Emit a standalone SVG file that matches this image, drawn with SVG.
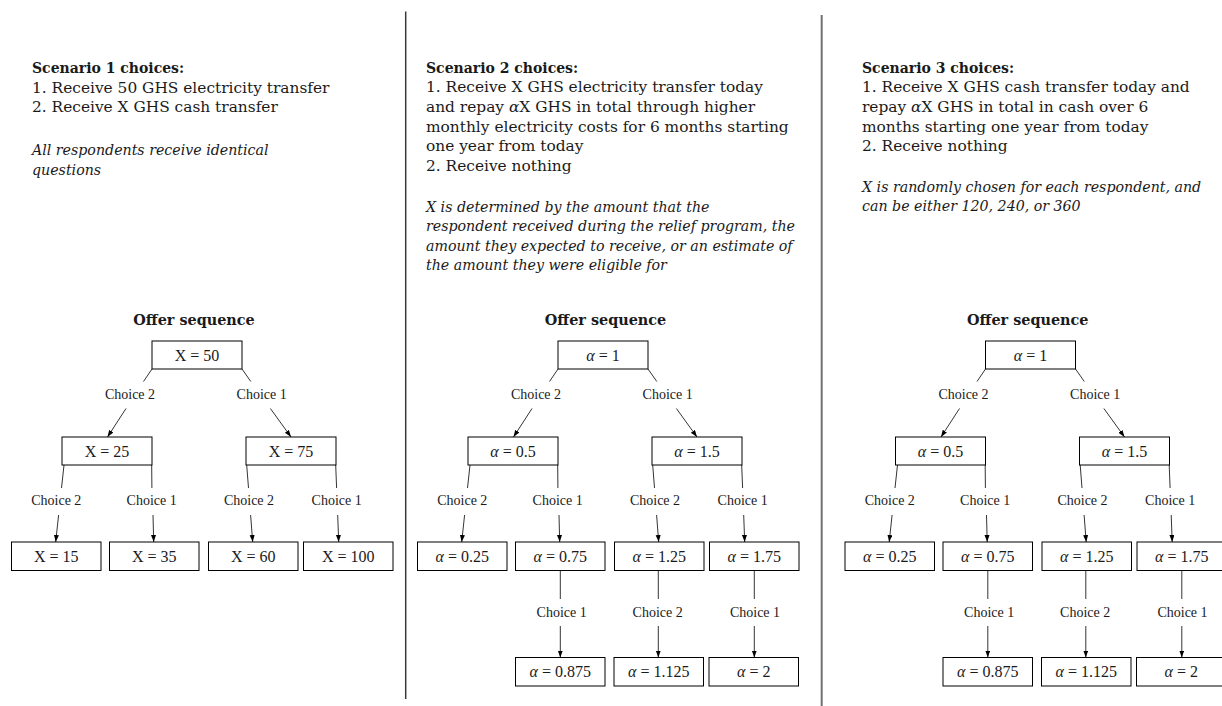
<svg xmlns="http://www.w3.org/2000/svg" width="1222" height="706" viewBox="0 0 1222 706">
<defs>
<marker id="ah" markerUnits="userSpaceOnUse" markerWidth="8" markerHeight="6" refX="7" refY="2.5" orient="auto">
<path d="M0,0 L7,2.5 L0,5 z" fill="#000"/>
</marker>
<style>
.p{font-family:"DejaVu Serif",serif;font-size:15.4px;fill:#1a1a1a}
.b{font-weight:bold;font-size:14px}
.i{font-style:italic;font-size:14.2px}
.p tspan.i{font-size:15.4px}
.t{font-family:"DejaVu Serif",serif;font-weight:bold;font-size:14.4px;fill:#1a1a1a;text-anchor:middle}
.box rect{fill:#fff;stroke:#000;stroke-width:1}
.box text{font-family:"Liberation Serif",serif;font-size:16px;fill:#1a1a1a;text-anchor:middle}
.a{font-style:italic}
.c line{stroke:#000;stroke-width:0.8}
.c .ar{marker-end:url(#ah)}
.lb{font-family:"Liberation Serif",serif;font-size:14px;fill:#1a1a1a;text-anchor:middle}
</style>
</defs>
<rect width="1222" height="706" fill="#fff"/>
<g id="dividers">
<line x1="405.7" y1="11.5" x2="405.7" y2="699" stroke="#3a3a3a" stroke-width="1.5"/>
<line x1="821.7" y1="15" x2="821.7" y2="706" stroke="#707070" stroke-width="2"/>
</g>
<g id="scenario1-text" class="p">
<text x="32" y="72.5" class="b">Scenario 1 choices:</text>
<text x="32" y="92.5">1. Receive 50 GHS electricity transfer</text>
<text x="32" y="112">2. Receive X GHS cash transfer</text>
<text x="32" y="155" class="i">All respondents receive identical</text>
<text x="32" y="174.5" class="i">questions</text>
</g>
<g id="scenario2-text" class="p">
<text x="426" y="72.5" class="b">Scenario 2 choices:</text>
<text x="426" y="92.3">1. Receive X GHS electricity transfer today</text>
<text x="426" y="112">and repay <tspan class="i">α</tspan>X GHS in total through higher</text>
<text x="426" y="131.7">monthly electricity costs for 6 months starting</text>
<text x="426" y="151.4">one year from today</text>
<text x="426" y="171.1">2. Receive nothing</text>
<text x="426" y="211.5" class="i">X is determined by the amount that the</text>
<text x="426" y="231" class="i">respondent received during the relief program, the</text>
<text x="426" y="250.5" class="i">amount they expected to receive, or an estimate of</text>
<text x="426" y="270" class="i">the amount they were eligible for</text>
</g>
<g id="scenario3-text" class="p">
<text x="862" y="72.5" class="b">Scenario 3 choices:</text>
<text x="862" y="92.3">1. Receive X GHS cash transfer today and</text>
<text x="862" y="112">repay <tspan class="i">α</tspan>X GHS in total in cash over 6</text>
<text x="862" y="131.7">months starting one year from today</text>
<text x="862" y="151.4">2. Receive nothing</text>
<text x="862" y="191.5" class="i">X is randomly chosen for each respondent, and</text>
<text x="862" y="211" class="i">can be either 120, 240, or 360</text>
</g>
<g id="titles">
<text x="194" y="325" class="t">Offer sequence</text>
<text x="605.5" y="325" class="t">Offer sequence</text>
<text x="1027.8" y="325" class="t">Offer sequence</text>
</g>
<g id="connectors" class="c">
<!-- tree 1 -->
<line x1="152" y1="369" x2="143.5" y2="381.5"/><line class="ar" x1="126" y1="408.5" x2="107.5" y2="437"/>
<line x1="242" y1="369" x2="250.8" y2="381.5"/><line class="ar" x1="270.4" y1="408.5" x2="291" y2="437"/>
<line x1="64" y1="465" x2="61.5" y2="488"/><line class="ar" x1="58.6" y1="515" x2="55.7" y2="542"/>
<line x1="151.7" y1="465" x2="151.9" y2="488"/><line class="ar" x1="153" y1="515" x2="153.7" y2="542"/>
<line x1="246.7" y1="465" x2="248.5" y2="488"/><line class="ar" x1="250.6" y1="515" x2="252.7" y2="542"/>
<line x1="335.7" y1="465" x2="336.6" y2="488"/><line class="ar" x1="337.7" y1="515" x2="338.7" y2="542"/>
<text class="lb" x="130" y="399">Choice 2</text><text class="lb" x="261.7" y="399">Choice 1</text>
<text class="lb" x="56.3" y="504.7">Choice 2</text><text class="lb" x="151.7" y="504.7">Choice 1</text>
<text class="lb" x="249" y="504.7">Choice 2</text><text class="lb" x="336.7" y="504.7">Choice 1</text>
<!-- tree 2 -->
<line x1="558" y1="369" x2="549.5" y2="381.5"/><line class="ar" x1="532" y1="408.5" x2="513.5" y2="437"/>
<line x1="648" y1="369" x2="656.8" y2="381.5"/><line class="ar" x1="676.4" y1="408.5" x2="697" y2="437"/>
<line x1="470" y1="465" x2="467.5" y2="488"/><line class="ar" x1="464.6" y1="515" x2="461.7" y2="542"/>
<line x1="557.7" y1="465" x2="557.9" y2="488"/><line class="ar" x1="559" y1="515" x2="559.7" y2="542"/>
<line x1="652.7" y1="465" x2="654.5" y2="488"/><line class="ar" x1="656.6" y1="515" x2="658.7" y2="542"/>
<line x1="741.7" y1="465" x2="742.6" y2="488"/><line class="ar" x1="743.7" y1="515" x2="744.7" y2="542"/>
<line x1="560.3" y1="570.5" x2="560.3" y2="599"/><line class="ar" x1="560.3" y1="626" x2="560.3" y2="657.5"/>
<line x1="658.3" y1="570.5" x2="658.3" y2="599"/><line class="ar" x1="658.3" y1="626" x2="658.3" y2="657.5"/>
<line x1="754.3" y1="570.5" x2="754.3" y2="599"/><line class="ar" x1="754.3" y1="626" x2="754.3" y2="657.5"/>
<text class="lb" x="536" y="399">Choice 2</text><text class="lb" x="667.7" y="399">Choice 1</text>
<text class="lb" x="462.3" y="504.7">Choice 2</text><text class="lb" x="557.7" y="504.7">Choice 1</text>
<text class="lb" x="655" y="504.7">Choice 2</text><text class="lb" x="742.7" y="504.7">Choice 1</text>
<text class="lb" x="561.7" y="616.7">Choice 1</text><text class="lb" x="657.7" y="616.7">Choice 2</text><text class="lb" x="755" y="616.7">Choice 1</text>
<!-- tree 3 -->
<line x1="985.5" y1="369" x2="977" y2="381.5"/><line class="ar" x1="959.5" y1="408.5" x2="941" y2="437"/>
<line x1="1075.5" y1="369" x2="1084.3" y2="381.5"/><line class="ar" x1="1103.9" y1="408.5" x2="1124.5" y2="437"/>
<line x1="897.5" y1="465" x2="895" y2="488"/><line class="ar" x1="892.1" y1="515" x2="889.2" y2="542"/>
<line x1="985.2" y1="465" x2="985.4" y2="488"/><line class="ar" x1="986.5" y1="515" x2="987.2" y2="542"/>
<line x1="1080.2" y1="465" x2="1082" y2="488"/><line class="ar" x1="1084.1" y1="515" x2="1086.2" y2="542"/>
<line x1="1169.2" y1="465" x2="1170.1" y2="488"/><line class="ar" x1="1171.2" y1="515" x2="1172.2" y2="542"/>
<line x1="987.8" y1="570.5" x2="987.8" y2="599"/><line class="ar" x1="987.8" y1="626" x2="987.8" y2="657.5"/>
<line x1="1085.8" y1="570.5" x2="1085.8" y2="599"/><line class="ar" x1="1085.8" y1="626" x2="1085.8" y2="657.5"/>
<line x1="1181.8" y1="570.5" x2="1181.8" y2="599"/><line class="ar" x1="1181.8" y1="626" x2="1181.8" y2="657.5"/>
<text class="lb" x="963.5" y="399">Choice 2</text><text class="lb" x="1095.2" y="399">Choice 1</text>
<text class="lb" x="889.8" y="504.7">Choice 2</text><text class="lb" x="985.2" y="504.7">Choice 1</text>
<text class="lb" x="1082.5" y="504.7">Choice 2</text><text class="lb" x="1170.2" y="504.7">Choice 1</text>
<text class="lb" x="989.2" y="616.7">Choice 1</text><text class="lb" x="1085.2" y="616.7">Choice 2</text><text class="lb" x="1182.5" y="616.7">Choice 1</text>
</g>
<!-- tree 1 nodes -->
<g id="t1-root" class="box"><rect x="152" y="341" width="90" height="28"/><text x="197" y="360.5">X = 50</text></g>
<g id="t1-25" class="box"><rect x="62" y="437" width="90" height="28"/><text x="107" y="456.5">X = 25</text></g>
<g id="t1-75" class="box"><rect x="246" y="437" width="90" height="28"/><text x="291" y="456.5">X = 75</text></g>
<g id="t1-15" class="box"><rect x="11.5" y="542" width="89.5" height="28.5"/><text x="56.25" y="561.5">X = 15</text></g>
<g id="t1-35" class="box"><rect x="109.5" y="542" width="89.5" height="28.5"/><text x="154.25" y="561.5">X = 35</text></g>
<g id="t1-60" class="box"><rect x="208.5" y="542" width="89.5" height="28.5"/><text x="253.25" y="561.5">X = 60</text></g>
<g id="t1-100" class="box"><rect x="303.5" y="542" width="89.5" height="28.5"/><text x="348.25" y="561.5">X = 100</text></g>
<!-- tree 2 nodes -->
<g id="t2-root" class="box"><rect x="558" y="341" width="90" height="28"/><text x="603" y="360.5"><tspan class="a">α</tspan> = 1</text></g>
<g id="t2-05" class="box"><rect x="468" y="437" width="90" height="28"/><text x="513" y="456.5"><tspan class="a">α</tspan> = 0.5</text></g>
<g id="t2-15" class="box"><rect x="652" y="437" width="90" height="28"/><text x="697" y="456.5"><tspan class="a">α</tspan> = 1.5</text></g>
<g id="t2-025" class="box"><rect x="417.5" y="542" width="89.5" height="28.5"/><text x="462.25" y="561.5"><tspan class="a">α</tspan> = 0.25</text></g>
<g id="t2-075" class="box"><rect x="515.5" y="542" width="89.5" height="28.5"/><text x="560.25" y="561.5"><tspan class="a">α</tspan> = 0.75</text></g>
<g id="t2-125" class="box"><rect x="614.5" y="542" width="89.5" height="28.5"/><text x="659.25" y="561.5"><tspan class="a">α</tspan> = 1.25</text></g>
<g id="t2-175" class="box"><rect x="709.5" y="542" width="89.5" height="28.5"/><text x="754.25" y="561.5"><tspan class="a">α</tspan> = 1.75</text></g>
<g id="t2-0875" class="box"><rect x="515.5" y="657.5" width="89.5" height="28.5"/><text x="560.25" y="677"><tspan class="a">α</tspan> = 0.875</text></g>
<g id="t2-1125" class="box"><rect x="614" y="657.5" width="89.5" height="28.5"/><text x="658.75" y="677"><tspan class="a">α</tspan> = 1.125</text></g>
<g id="t2-2" class="box"><rect x="709" y="657.5" width="89.5" height="28.5"/><text x="753.75" y="677"><tspan class="a">α</tspan> = 2</text></g>
<!-- tree 3 nodes -->
<g id="t3-root" class="box"><rect x="985.5" y="341" width="90" height="28"/><text x="1030.5" y="360.5"><tspan class="a">α</tspan> = 1</text></g>
<g id="t3-05" class="box"><rect x="895.5" y="437" width="90" height="28"/><text x="940.5" y="456.5"><tspan class="a">α</tspan> = 0.5</text></g>
<g id="t3-15" class="box"><rect x="1079.5" y="437" width="90" height="28"/><text x="1124.5" y="456.5"><tspan class="a">α</tspan> = 1.5</text></g>
<g id="t3-025" class="box"><rect x="845" y="542" width="89.5" height="28.5"/><text x="889.75" y="561.5"><tspan class="a">α</tspan> = 0.25</text></g>
<g id="t3-075" class="box"><rect x="943" y="542" width="89.5" height="28.5"/><text x="987.75" y="561.5"><tspan class="a">α</tspan> = 0.75</text></g>
<g id="t3-125" class="box"><rect x="1042" y="542" width="89.5" height="28.5"/><text x="1086.75" y="561.5"><tspan class="a">α</tspan> = 1.25</text></g>
<g id="t3-175" class="box"><rect x="1137" y="542" width="89.5" height="28.5"/><text x="1181.75" y="561.5"><tspan class="a">α</tspan> = 1.75</text></g>
<g id="t3-0875" class="box"><rect x="943" y="657.5" width="89.5" height="28.5"/><text x="987.75" y="677"><tspan class="a">α</tspan> = 0.875</text></g>
<g id="t3-1125" class="box"><rect x="1041.5" y="657.5" width="89.5" height="28.5"/><text x="1086.25" y="677"><tspan class="a">α</tspan> = 1.125</text></g>
<g id="t3-2" class="box"><rect x="1136.5" y="657.5" width="89.5" height="28.5"/><text x="1181.25" y="677"><tspan class="a">α</tspan> = 2</text></g>
</svg>
